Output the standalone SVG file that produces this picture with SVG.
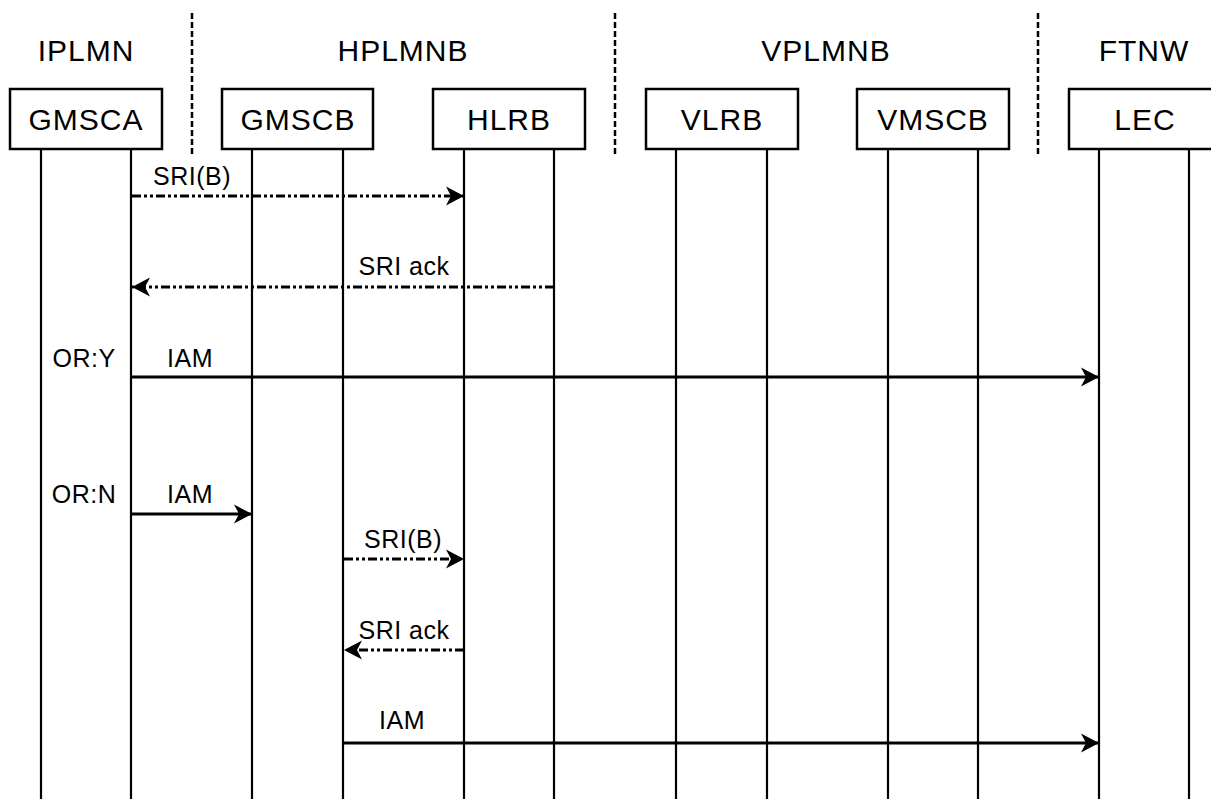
<svg xmlns="http://www.w3.org/2000/svg" width="1211" height="799" viewBox="0 0 1211 799">
<style>
text{font-family:"Liberation Sans",Arial,sans-serif;fill:#000}
.region{font-size:30px;letter-spacing:1px;text-anchor:middle}
.nlabel{font-size:30px;letter-spacing:1px;text-anchor:middle}
.elabel{font-size:25px;letter-spacing:0.5px;text-anchor:middle}
.box{fill:#fff;stroke:#000;stroke-width:2.5}
.life{stroke:#000;stroke-width:2.2}
.sep{stroke:#000;stroke-width:2.5;stroke-dasharray:6 3}
.solid{stroke:#000;stroke-width:3;fill:none;marker-end:url(#arr)}
.ddot{stroke:#000;stroke-width:3;fill:none;stroke-dasharray:9 3 3 3 3 3;marker-end:url(#arr)}
</style>
<defs>
<marker id="arr" viewBox="0 0 20 20" refX="18" refY="10" markerWidth="20" markerHeight="20" markerUnits="userSpaceOnUse" orient="auto">
<path d="M0,0.5 L18,10 L0,19.5 L5,10 Z" fill="#000"/>
</marker>
</defs>
<rect width="1211" height="799" fill="#fff"/>
<g id="regions">
<text class="region" x="86" y="61">IPLMN</text>
<text class="region" x="403" y="61">HPLMNB</text>
<text class="region" x="826" y="61">VPLMNB</text>
<text class="region" x="1144" y="61">FTNW</text>
<line class="sep" x1="192" y1="13" x2="192" y2="157"/>
<line class="sep" x1="615" y1="13" x2="615" y2="157"/>
<line class="sep" x1="1038" y1="13" x2="1038" y2="157"/>
</g>
<g id="GMSCA">
<line class="life" x1="41" y1="149" x2="41" y2="799"/>
<line class="life" x1="131" y1="149" x2="131" y2="799"/>
<rect class="box" x="10" y="89" width="152" height="60"/>
<text class="nlabel" x="86" y="130">GMSCA</text>
</g>
<g id="GMSCB">
<line class="life" x1="252" y1="149" x2="252" y2="799"/>
<line class="life" x1="343" y1="149" x2="343" y2="799"/>
<rect class="box" x="222" y="89" width="151" height="60"/>
<text class="nlabel" x="298" y="130">GMSCB</text>
</g>
<g id="HLRB">
<line class="life" x1="464" y1="149" x2="464" y2="799"/>
<line class="life" x1="554" y1="149" x2="554" y2="799"/>
<rect class="box" x="433" y="89" width="152" height="60"/>
<text class="nlabel" x="509" y="130">HLRB</text>
</g>
<g id="VLRB">
<line class="life" x1="676" y1="149" x2="676" y2="799"/>
<line class="life" x1="767" y1="149" x2="767" y2="799"/>
<rect class="box" x="646" y="89" width="152" height="60"/>
<text class="nlabel" x="722" y="130">VLRB</text>
</g>
<g id="VMSCB">
<line class="life" x1="888" y1="149" x2="888" y2="799"/>
<line class="life" x1="978" y1="149" x2="978" y2="799"/>
<rect class="box" x="857" y="89" width="152" height="60"/>
<text class="nlabel" x="933" y="130">VMSCB</text>
</g>
<g id="LEC">
<line class="life" x1="1099" y1="149" x2="1099" y2="799"/>
<line class="life" x1="1189" y1="149" x2="1189" y2="799"/>
<rect class="box" x="1069" y="89" width="152" height="60"/>
<text class="nlabel" x="1145" y="130">LEC</text>
</g>
<g id="connectors">
<line class="ddot" x1="132" y1="196" x2="464" y2="196"/>
<text class="elabel" x="192" y="185">SRI(B)</text>
<line class="ddot" x1="554" y1="287" x2="132" y2="287"/>
<text class="elabel" x="404" y="275">SRI ack</text>
<line class="solid" x1="132" y1="377" x2="1099" y2="377"/>
<text class="elabel" x="84" y="367">OR:Y</text>
<text class="elabel" x="190" y="367">IAM</text>
<line class="solid" x1="132" y1="514" x2="252" y2="514"/>
<text class="elabel" x="84" y="503">OR:N</text>
<text class="elabel" x="190" y="503">IAM</text>
<line class="ddot" x1="344" y1="559" x2="464" y2="559"/>
<text class="elabel" x="403" y="548">SRI(B)</text>
<line class="ddot" x1="464" y1="650" x2="344" y2="650"/>
<text class="elabel" x="404" y="639">SRI ack</text>
<line class="solid" x1="344" y1="743" x2="1099" y2="743"/>
<text class="elabel" x="402" y="729">IAM</text>
</g>
</svg>
